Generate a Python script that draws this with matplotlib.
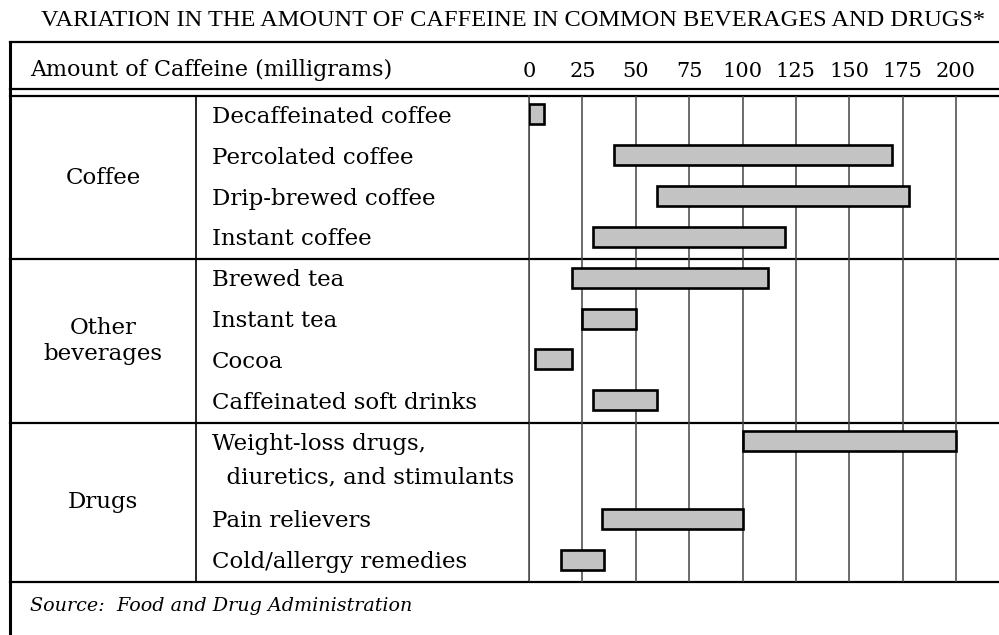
import matplotlib
matplotlib.use("Agg")
import matplotlib.pyplot as plt

# data (milligrams of caffeine, low / high)
categories = ["Coffee", "Other\nbeverages", "Drugs"]
items = [
    "Decaffeinated coffee", "Percolated coffee", "Drip-brewed coffee", "Instant coffee",
    "Brewed tea", "Instant tea", "Cocoa", "Caffeinated soft drinks",
    "Weight-loss drugs,\n  diuretics, and stimulants", "Pain relievers", "Cold/allergy remedies",
]
item_category = [0, 0, 0, 0, 1, 1, 1, 1, 2, 2, 2]
low = [0, 40, 60, 30, 20, 25, 3, 30, 100, 34, 15]
high = [7, 170, 178, 120, 112, 50, 20, 60, 200, 100, 35]
ticks = [0, 25, 50, 75, 100, 125, 150, 175, 200]

title = "VARIATION IN THE AMOUNT OF CAFFEINE IN COMMON BEVERAGES AND DRUGS*"
header = "Amount of Caffeine (milligrams)"
source = "Source:  Food and Drug Administration"

# layout in figure pixels
W, H = 999, 635
table_left = 10
head_top, head_bot1, head_bot2 = 42, 89, 96
body_bot = 582
col_sep = 196
chart_left = 529
px_per_mg = (956 - 529) / 200.0
row_units = [1.9 if "\n" in s else 1 for s in items]

font = "DejaVu Serif"
fs = 16.5

fig = plt.figure(figsize=(W / 100, H / 100), dpi=100)
tab = fig.add_axes([0, 0, 1, 1])
tab.set_xlim(0, W)
tab.set_ylim(H, 0)
tab.axis("off")

ax = fig.add_axes([chart_left / W, (H - body_bot) / H, (W - chart_left) / W, (body_bot - head_bot2) / H])
ax.set_xlim(0, (W - chart_left) / px_per_mg)
ax.set_ylim(body_bot, head_bot2)

# row positions from layout
unit = (body_bot - head_bot2) / sum(row_units)
row_top = [head_bot2]
for u in row_units:
    row_top.append(row_top[-1] + u * unit)
bar_y = [t + 0.45 * unit for t in row_top[:-1]]

# bars
widths = [h - l for l, h in zip(low, high)]
ax.barh(bar_y, widths, left=low, height=20, color="#c3c3c3", edgecolor="black", linewidth=1.9, zorder=3)

# grid / header ticks
ax.set_xticks(ticks)
ax.set_xticklabels([str(t) for t in ticks], family=font, fontsize=15)
ax.xaxis.tick_top()
ax.tick_params(axis="x", length=0, pad=11)
ax.set_yticks([])
ax.grid(axis="x", color="#444444", linewidth=1.1)
ax.set_axisbelow(True)
for s in ax.spines.values():
    s.set_visible(False)
ax.patch.set_alpha(0)

# table rules
lw = 1.6
for y in [head_top, head_bot1, head_bot2]:
    tab.plot([table_left, W], [y, y], color="black", lw=lw)
tab.plot([table_left, table_left], [head_top, H], color="black", lw=2.2)
tab.plot([col_sep, col_sep], [head_bot2, body_bot], color="black", lw=1.2)
tab.plot([chart_left, chart_left], [head_bot2, body_bot], color="#444444", lw=1.1)
tab.plot([table_left, W], [body_bot, body_bot], color="black", lw=lw)
sec_bounds = [i for i in range(1, len(items)) if item_category[i] != item_category[i - 1]]
for i in sec_bounds:
    tab.plot([table_left, W], [row_top[i], row_top[i]], color="black", lw=lw)

# texts
tab.text(513, 21, title, family="Liberation Serif", fontsize=17.6, ha="center", va="center")
tab.text(30, 70, header, family=font, fontsize=16, ha="left", va="center")
for i, lab in enumerate(items):
    y = bar_y[i] + 2.5
    if "\n" in lab:
        a, b = lab.split("\n")
        tab.text(212, y, a, family=font, fontsize=fs, ha="left", va="center")
        tab.text(212, y + 34, b, family=font, fontsize=fs, ha="left", va="center")
    else:
        tab.text(212, y, lab, family=font, fontsize=fs, ha="left", va="center")
sec_edges = [0] + sec_bounds + [len(items)]
for k, cat in enumerate(categories):
    yc = (row_top[sec_edges[k]] + row_top[sec_edges[k + 1]]) / 2
    tab.text((table_left + col_sep) / 2, yc, cat, family=font, fontsize=fs, ha="center", va="center",
             linespacing=1.2)
tab.text(30, 606, source, family=font, fontsize=13.8, style="italic", ha="left", va="center")

fig.savefig("out.png", dpi=100)
